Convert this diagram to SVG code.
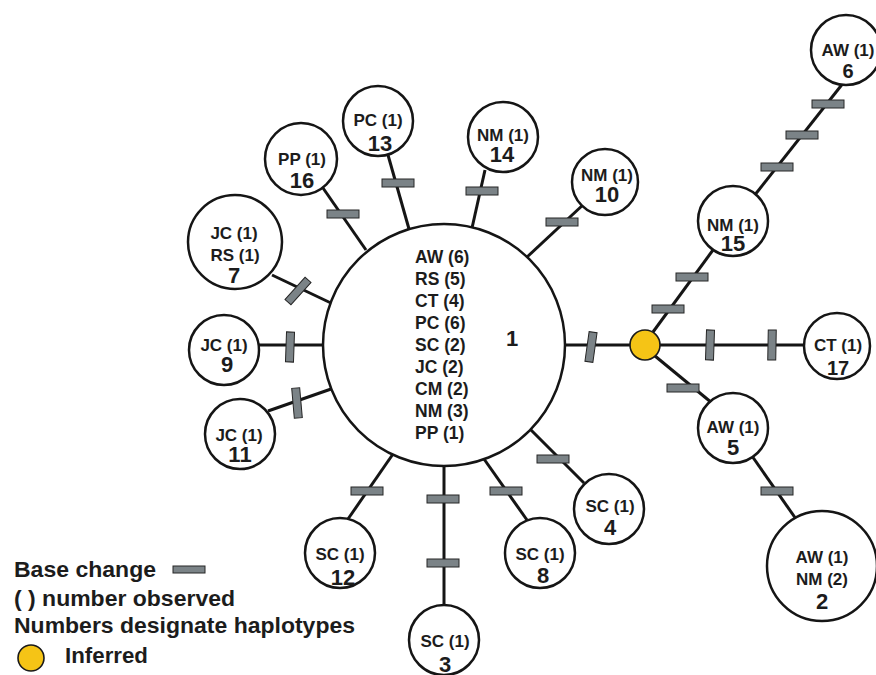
<svg xmlns="http://www.w3.org/2000/svg" width="876" height="675" viewBox="0 0 876 675">
<defs>
<style>
.ln{stroke:#151515;stroke-width:3;fill:none;stroke-linecap:butt}
.nd{fill:#fff;stroke:#151515;stroke-width:2.5}
.bc{fill:#7b8387;stroke:#262626;stroke-width:1}
.inf{fill:#F5C416;stroke:#1a1a1a;stroke-width:1.6}
text{font-family:"Liberation Sans",Arial,Helvetica,sans-serif;font-weight:bold;fill:#1c1c1c}
.lb{font-size:17px;text-anchor:middle}
.num{font-size:22px;text-anchor:middle}
.ct{font-size:17.5px}
.lg{font-size:22px}
</style>
<rect id="bch" class="bc" x="-16" y="-4" width="32" height="8"/>
<rect id="bcv" class="bc" x="-4" y="-15" width="8" height="30"/>
</defs>
<rect width="876" height="675" fill="#fff"/>

<g id="connectors">
<line class="ln" x1="323" y1="188" x2="366" y2="250"/>
<line class="ln" x1="388" y1="155" x2="409" y2="229"/>
<line class="ln" x1="485" y1="170" x2="472" y2="228"/>
<line class="ln" x1="585" y1="203" x2="527" y2="257"/>
<line class="ln" x1="272" y1="275" x2="333" y2="304"/>
<line class="ln" x1="258" y1="345" x2="327" y2="345"/>
<line class="ln" x1="268" y1="411" x2="334" y2="388"/>
<line class="ln" x1="348" y1="519" x2="393" y2="454"/>
<line class="ln" x1="444" y1="464" x2="444" y2="606"/>
<line class="ln" x1="484" y1="459" x2="527" y2="520"/>
<line class="ln" x1="529" y1="428" x2="584" y2="483"/>
<line class="ln" x1="563" y1="345" x2="632" y2="345"/>
<line class="ln" x1="658" y1="345" x2="806" y2="345"/>
<line class="ln" x1="655" y1="356" x2="712" y2="403"/>
<line class="ln" x1="653" y1="332" x2="713" y2="250"/>
<line class="ln" x1="754" y1="196" x2="844" y2="82"/>
<line class="ln" x1="752" y1="456" x2="796" y2="519"/>
</g>

<g id="base-changes">
<use href="#bch" x="343" y="214"/>
<use href="#bch" x="398" y="183"/>
<use href="#bch" x="482" y="191"/>
<use href="#bch" x="562" y="222"/>
<use href="#bcv" transform="translate(298,291) rotate(42)"/>
<use href="#bcv" transform="translate(290,347) rotate(2)"/>
<use href="#bcv" transform="translate(297,403) rotate(-5)"/>
<use href="#bch" x="367" y="491"/>
<use href="#bch" x="443" y="499"/>
<use href="#bch" x="443" y="563"/>
<use href="#bch" x="506" y="491"/>
<use href="#bch" x="553" y="459"/>
<use href="#bcv" transform="translate(591,347) rotate(8)"/>
<use href="#bcv" transform="translate(710,345) rotate(2)"/>
<use href="#bcv" transform="translate(772,345) rotate(1)"/>
<use href="#bch" x="683" y="388"/>
<use href="#bch" x="668" y="309"/>
<use href="#bch" x="692" y="277"/>
<use href="#bch" x="777" y="167"/>
<use href="#bch" x="802" y="135"/>
<use href="#bch" x="828" y="104"/>
<use href="#bch" x="777" y="491"/>
</g>

<g id="node-1">
<circle class="nd" cx="444" cy="345" r="121"/>
<text class="ct" x="415" y="263">AW (6)</text>
<text class="ct" x="415" y="285">RS (5)</text>
<text class="ct" x="415" y="307">CT (4)</text>
<text class="ct" x="415" y="329">PC (6)</text>
<text class="ct" x="415" y="351">SC (2)</text>
<text class="ct" x="415" y="373">JC (2)</text>
<text class="ct" x="415" y="395">CM (2)</text>
<text class="ct" x="415" y="417">NM (3)</text>
<text class="ct" x="415" y="439">PP (1)</text>
<text class="num" x="512" y="346">1</text>
</g>

<g id="node-inferred">
<circle class="inf" cx="645" cy="345" r="15"/>
</g>

<g id="node-16">
<circle class="nd" cx="301" cy="159" r="36"/>
<text class="lb" x="302" y="165">PP (1)</text>
<text class="num" x="302" y="188">16</text>
</g>

<g id="node-13">
<circle class="nd" cx="378" cy="121" r="35"/>
<text class="lb" x="378" y="126">PC (1)</text>
<text class="num" x="380" y="151">13</text>
</g>

<g id="node-14">
<circle class="nd" cx="503" cy="137" r="35"/>
<text class="lb" x="503" y="141">NM (1)</text>
<text class="num" x="502" y="162">14</text>
</g>

<g id="node-10">
<circle class="nd" cx="605" cy="182" r="33"/>
<text class="lb" x="607" y="181">NM (1)</text>
<text class="num" x="607" y="202">10</text>
</g>

<g id="node-7">
<circle class="nd" cx="235" cy="242" r="47"/>
<text class="lb" x="234" y="239">JC (1)</text>
<text class="lb" x="235" y="261">RS (1)</text>
<text class="num" x="234" y="283">7</text>
</g>

<g id="node-9">
<circle class="nd" cx="224" cy="350" r="35"/>
<text class="lb" x="224" y="351">JC (1)</text>
<text class="num" x="227" y="372">9</text>
</g>

<g id="node-11">
<circle class="nd" cx="240" cy="434" r="35"/>
<text class="lb" x="239" y="441">JC (1)</text>
<text class="num" x="240" y="462">11</text>
</g>

<g id="node-12">
<circle class="nd" cx="340" cy="553" r="35"/>
<text class="lb" x="340" y="560">SC (1)</text>
<text class="num" x="343" y="585">12</text>
</g>

<g id="node-3">
<circle class="nd" cx="444" cy="640" r="35"/>
<text class="lb" x="445" y="647">SC (1)</text>
<text class="num" x="445" y="672">3</text>
</g>

<g id="node-8">
<circle class="nd" cx="540" cy="553" r="35"/>
<text class="lb" x="540" y="560">SC (1)</text>
<text class="num" x="543" y="583">8</text>
</g>

<g id="node-4">
<circle class="nd" cx="609" cy="509" r="35"/>
<text class="lb" x="610" y="512">SC (1)</text>
<text class="num" x="610" y="535">4</text>
</g>

<g id="node-5">
<circle class="nd" cx="733" cy="428" r="35"/>
<text class="lb" x="733" y="433">AW (1)</text>
<text class="num" x="733" y="455">5</text>
</g>

<g id="node-2">
<circle class="nd" cx="822" cy="566" r="55"/>
<text class="lb" x="822" y="563">AW (1)</text>
<text class="lb" x="822" y="585">NM (2)</text>
<text class="num" x="822" y="609">2</text>
</g>

<g id="node-17">
<circle class="nd" cx="837" cy="346" r="33"/>
<text class="lb" x="838" y="351">CT (1)</text>
<text class="num" x="838" y="375" style="font-size:20px">17</text>
</g>

<g id="node-15">
<circle class="nd" cx="733" cy="221" r="35"/>
<text class="lb" x="733" y="231">NM (1)</text>
<text class="num" x="733" y="251">15</text>
</g>

<g id="node-6">
<circle class="nd" cx="846" cy="50" r="35"/>
<text class="lb" x="848" y="56">AW (1)</text>
<text class="num" x="848" y="78" style="font-size:20px">6</text>
</g>

<g id="legend">
<text class="lg" x="14" y="577" textLength="142" lengthAdjust="spacingAndGlyphs">Base change</text>
<rect class="bc" x="173" y="566" width="32" height="7"/>
<text class="lg" x="14" y="606" textLength="221" lengthAdjust="spacingAndGlyphs">( ) number observed</text>
<text class="lg" x="14" y="633" textLength="341" lengthAdjust="spacingAndGlyphs">Numbers designate haplotypes</text>
<circle class="inf" cx="31" cy="658" r="13"/>
<text class="lg" x="65" y="663" textLength="83" lengthAdjust="spacingAndGlyphs">Inferred</text>
</g>
</svg>
